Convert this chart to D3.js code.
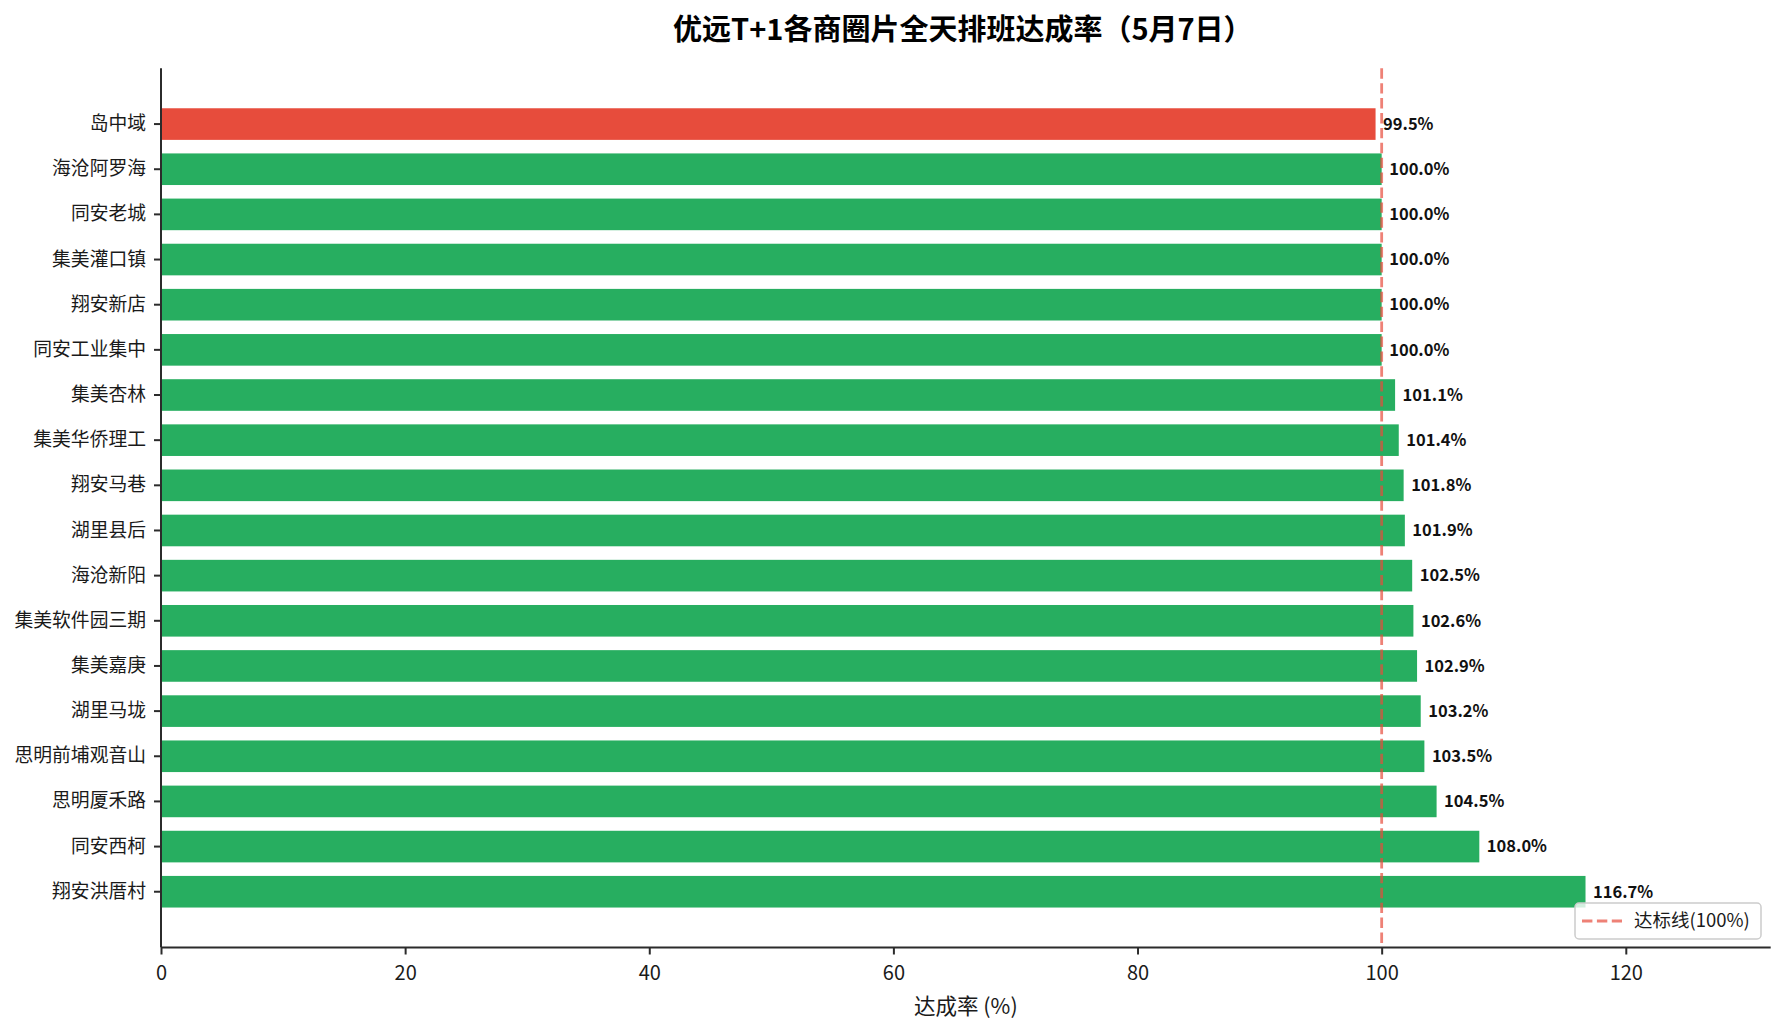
<!DOCTYPE html>
<html>
<head>
<meta charset="utf-8">
<script src="https://cdn.jsdelivr.net/npm/d3@7"></script>
<style>
  body { margin: 0; background: #fff; }
  svg text { font-family: "Noto Sans CJK SC", "Noto Sans", sans-serif; }
</style>
</head>
<body>
<div id="chart"></div>
<script>
// data
const regions = ['岛中域', '海沧阿罗海', '同安老城', '集美灌口镇', '翔安新店', '同安工业集中',
    '集美杏林', '集美华侨理工', '翔安马巷', '湖里县后', '海沧新阳', '集美软件园三期',
    '集美嘉庚', '湖里马垅', '思明前埔观音山', '思明厦禾路', '同安西柯', '翔安洪厝村'];
const rates = [99.5, 100.0, 100.0, 100.0, 100.0, 100.0, 101.1, 101.4, 101.8, 101.9,
    102.5, 102.6, 102.9, 103.2, 103.5, 104.5, 108.0, 116.7];
const xTicks = [0, 20, 40, 60, 80, 100, 120];
const target = 100;

const TITLE = '优远T+1各商圈片全天排班达成率（5月7日）';
const X_LABEL = '达成率 (%)';
const LEGEND_LABEL = '达标线(100%)';

// layout
const WIDTH = 1785, HEIGHT = 1033;
const LEFT = 161, RIGHT = 1770.7, TOP = 68.3, BOTTOM = 947.5;
const RED = '#e74c3c', GREEN = '#27ae60';

const rows = regions.map((r, i) => ({ region: r, rate: rates[i] }));

const svg = d3.select('#chart').append('svg')
    .attr('width', WIDTH)
    .attr('height', HEIGHT);

const x = d3.scaleLinear()
    .domain([0, d3.max(rates) * 1.13])
    .range([LEFT, RIGHT]);

const y = d3.scaleBand()
    .domain(regions)
    .range([TOP, BOTTOM])
    .paddingInner(0.3)
    .paddingOuter(0.885);

// bars
svg.append('g')
    .selectAll('rect')
    .data(rows)
    .join('rect')
    .attr('x', x(0))
    .attr('y', d => y(d.region))
    .attr('width', d => x(d.rate) - x(0))
    .attr('height', y.bandwidth())
    .attr('fill', d => d.rate < target ? RED : GREEN);

// target line
svg.append('line')
    .attr('x1', x(target)).attr('x2', x(target))
    .attr('y1', TOP).attr('y2', BOTTOM)
    .attr('stroke', RED)
    .attr('stroke-opacity', 0.7)
    .attr('stroke-width', 2.8)
    .attr('stroke-dasharray', '10.4,4.5');

// value labels
svg.append('g')
    .selectAll('text')
    .data(rows)
    .join('text')
    .attr('x', d => x(d.rate) + 7.5)
    .attr('y', d => y(d.region) + y.bandwidth() / 2)
    .attr('dy', '0.35em')
    .attr('font-size', 16.5)
    .attr('font-weight', 'bold')
    .attr('fill', '#111')
    .text(d => d.rate.toFixed(1) + '%');

// axes
const xAxis = svg.append('g')
    .attr('transform', `translate(0,${BOTTOM})`)
    .call(d3.axisBottom(x).tickValues(xTicks).tickSize(7).tickSizeOuter(0));
xAxis.selectAll('text')
    .attr('y', 25)
    .attr('dy', '0.35em')
    .attr('font-size', 20)
    .attr('fill', '#1a1a1a');

const yAxis = svg.append('g')
    .attr('transform', `translate(${LEFT},0)`)
    .call(d3.axisLeft(y).tickSize(7).tickPadding(8).tickSizeOuter(0));
yAxis.selectAll('text')
    .attr('font-size', 18.8)
    .attr('fill', '#1a1a1a');

[xAxis, yAxis].forEach(a => {
    a.select('.domain').attr('stroke', '#2b2b2b').attr('stroke-width', 2);
    a.selectAll('.tick line').attr('stroke', '#2b2b2b').attr('stroke-width', 2);
});
// y domain path should start at TOP / end at BOTTOM, no outer ticks
yAxis.select('.domain').attr('d', `M0,${TOP}V${BOTTOM}`);
xAxis.select('.domain').attr('d', `M${LEFT},0H${RIGHT}`);

// axis label
svg.append('text')
    .attr('x', (LEFT + RIGHT) / 2)
    .attr('y', 1006)
    .attr('dy', '0.35em')
    .attr('text-anchor', 'middle')
    .attr('font-size', 21.5)
    .attr('fill', '#1a1a1a')
    .text(X_LABEL);

// title
svg.append('text')
    .attr('x', (LEFT + RIGHT) / 2 - 3)
    .attr('y', 29.5)
    .attr('dy', '0.35em')
    .attr('text-anchor', 'middle')
    .attr('font-size', 29)
    .attr('font-weight', 'bold')
    .attr('fill', '#000')
    .text(TITLE);

// legend
const legend = svg.append('g').attr('transform', 'translate(1575,903)');
legend.append('rect')
    .attr('width', 186).attr('height', 36)
    .attr('rx', 4)
    .attr('fill', '#fff').attr('fill-opacity', 0.8)
    .attr('stroke', '#cccccc').attr('stroke-width', 1.5);
legend.append('line')
    .attr('x1', 7).attr('x2', 47)
    .attr('y1', 18).attr('y2', 18)
    .attr('stroke', RED)
    .attr('stroke-opacity', 0.7)
    .attr('stroke-width', 2.8)
    .attr('stroke-dasharray', '10.4,4.5');
legend.append('text')
    .attr('x', 59)
    .attr('y', 18)
    .attr('dy', '0.35em')
    .attr('font-size', 18.5)
    .attr('fill', '#1a1a1a')
    .text(LEGEND_LABEL);
</script>
</body>
</html>
